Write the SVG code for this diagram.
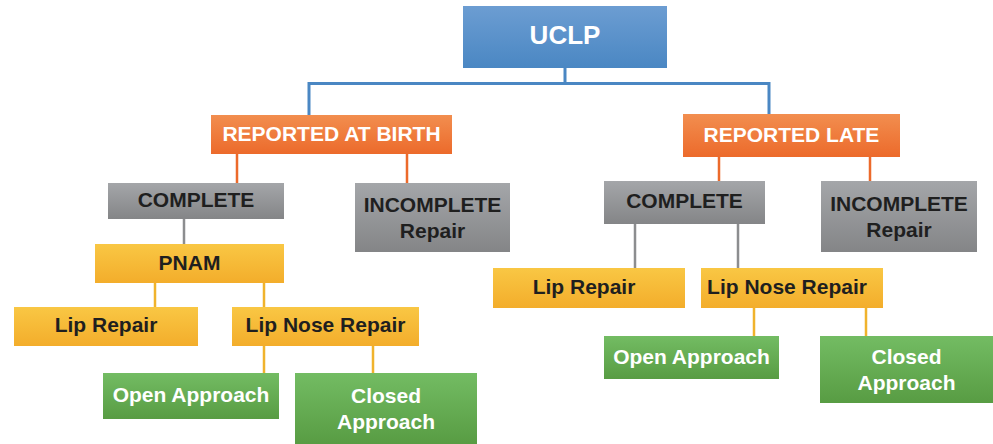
<svg xmlns="http://www.w3.org/2000/svg" width="993" height="444" viewBox="0 0 993 444">
<defs>
<linearGradient id="gBlue" x1="0" y1="0" x2="0" y2="1"><stop offset="0" stop-color="#6c9dd2"/><stop offset="1" stop-color="#4a87c3"/></linearGradient>
<linearGradient id="gOrange" x1="0" y1="0" x2="0" y2="1"><stop offset="0" stop-color="#f28e4f"/><stop offset="1" stop-color="#ec6a2b"/></linearGradient>
<linearGradient id="gGray" x1="0" y1="0" x2="0" y2="1"><stop offset="0" stop-color="#a4a6a9"/><stop offset="1" stop-color="#848587"/></linearGradient>
<linearGradient id="gYellow" x1="0" y1="0" x2="0" y2="1"><stop offset="0" stop-color="#f9c744"/><stop offset="1" stop-color="#f3ad2b"/></linearGradient>
<linearGradient id="gGreen" x1="0" y1="0" x2="0" y2="1"><stop offset="0" stop-color="#73bc63"/><stop offset="1" stop-color="#589c43"/></linearGradient>
</defs>
<style>
text{font-family:"Liberation Sans",Arial,sans-serif;font-weight:bold;font-size:21px;text-anchor:middle}
.w{fill:#ffffff}
.d{fill:#1f1f1f}
.blue{fill:url(#gBlue)}
.orange{fill:url(#gOrange)}
.gray{fill:url(#gGray)}
.yellow{fill:url(#gYellow)}
.green{fill:url(#gGreen)}
.cb{stroke:#4a87c3;stroke-width:3;fill:none}
.co{stroke:#ec6a2b;stroke-width:2.5;fill:none}
.cg{stroke:#8c8d8f;stroke-width:2.5;fill:none}
.cy{stroke:#f0b32c;stroke-width:2.5;fill:none}
</style>
<g id="connectors">
<path class="cb" d="M565 68V83.5M309 115V83.5H769V114"/>
<path class="co" d="M237 154V183M407 154V183M719 157V181M870 157V181"/>
<path class="cg" d="M184 219V244M635 224V268M738 224V268"/>
<path class="cy" d="M155 283V307M264 283V307M264 346V373M373 346V373M754 308V336M866 308V336"/>
</g>
<g id="uclp"><rect class="blue" x="463" y="6" width="204" height="62"/><text class="w" x="565" y="44" style="font-size:26px">UCLP</text></g>
<g id="reported-at-birth"><rect class="orange" x="211" y="115" width="241" height="39"/><text class="w" x="331.5" y="141">REPORTED AT BIRTH</text></g>
<g id="reported-late"><rect class="orange" x="683" y="114" width="217" height="43"/><text class="w" x="791.5" y="142">REPORTED LATE</text></g>
<g id="complete-left"><rect class="gray" x="108" y="183" width="176" height="36"/><text class="d" x="196" y="207">COMPLETE</text></g>
<g id="incomplete-left"><rect class="gray" x="355" y="183" width="155" height="69"/><text class="d" x="432.5" y="212">INCOMPLETE</text><text class="d" x="432.5" y="238">Repair</text></g>
<g id="pnam"><rect class="yellow" x="95" y="244" width="189" height="39"/><text class="d" x="189.5" y="270">PNAM</text></g>
<g id="lip-repair-left"><rect class="yellow" x="14" y="307" width="184" height="39"/><text class="d" x="106" y="332">Lip Repair</text></g>
<g id="lip-nose-repair-left"><rect class="yellow" x="232" y="307" width="187" height="39"/><text class="d" x="325.5" y="332">Lip Nose Repair</text></g>
<g id="open-approach-left"><rect class="green" x="103" y="373" width="176" height="46"/><text class="w" x="191" y="402">Open Approach</text></g>
<g id="closed-approach-left"><rect class="green" x="295" y="373" width="182" height="71"/><text class="w" x="386" y="403">Closed</text><text class="w" x="386" y="429">Approach</text></g>
<g id="complete-right"><rect class="gray" x="604" y="181" width="161" height="43"/><text class="d" x="684.5" y="208">COMPLETE</text></g>
<g id="incomplete-right"><rect class="gray" x="821" y="181" width="156" height="71"/><text class="d" x="899" y="211">INCOMPLETE</text><text class="d" x="899" y="237">Repair</text></g>
<g id="lip-repair-right"><rect class="yellow" x="493" y="268" width="192" height="40"/><text class="d" x="584" y="294">Lip Repair</text></g>
<g id="lip-nose-repair-right"><rect class="yellow" x="701" y="268" width="182" height="40"/><text class="d" x="787" y="294">Lip Nose Repair</text></g>
<g id="open-approach-right"><rect class="green" x="604" y="336" width="175" height="43"/><text class="w" x="691.5" y="364">Open Approach</text></g>
<g id="closed-approach-right"><rect class="green" x="820" y="336" width="173" height="67"/><text class="w" x="906.5" y="364">Closed</text><text class="w" x="906.5" y="390">Approach</text></g>
</svg>
